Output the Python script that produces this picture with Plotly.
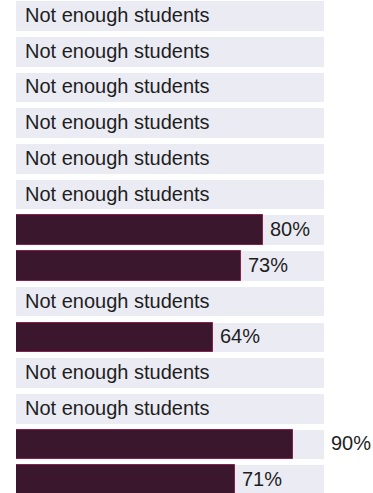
import plotly.graph_objects as go

# one entry per row, top to bottom; None = not enough students
rows = list(range(14))
values = [None, None, None, None, None, None, 80, 73, None, 64, None, None, 90, 71]
missing_label = "Not enough students"

colors = {
    'band': '#ebebf4',
    'bar': '#3a172d',
    'bar_edge': '#8c1f4c',
    'text': '#1e1e1e',
}

fig = go.Figure()

# light background band behind every row (full 100%)
fig.add_trace(go.Bar(
    x=[100] * len(rows),
    y=rows,
    orientation='h',
    width=0.83,
    marker=dict(color=colors['band'], line=dict(width=0)),
    hoverinfo='skip',
    showlegend=False
))

# actual percentage bars
bar_y = [r for r, v in zip(rows, values) if v is not None]
bar_x = [v for v in values if v is not None]
fig.add_trace(go.Bar(
    x=bar_x,
    y=bar_y,
    orientation='h',
    width=0.83,
    marker=dict(color=colors['bar'], line=dict(color=colors['bar_edge'], width=1)),
    showlegend=False
))

fig.update_layout(barmode='overlay')

# labels
for r, v in zip(rows, values):
    if v is None:
        fig.add_annotation(x=0, y=r, text=missing_label, showarrow=False,
                           xanchor='left', xshift=7, yshift=1,
                           font=dict(size=20, color=colors['text']))
    else:
        # long bars push the label past the band
        lx = v if v < 85 else 100
        fig.add_annotation(x=lx, y=r, text=f"{v}%", showarrow=False,
                           xanchor='left', xshift=5, yshift=1,
                           font=dict(size=20, color=colors['text']))

fig.update_layout(
    width=373,
    height=493,
    margin=dict(l=16, r=0, t=0, b=0),
    paper_bgcolor='white',
    plot_bgcolor='white',
    font=dict(family='Liberation Sans, Arial, sans-serif'),
    xaxis=dict(range=[0, 115.8], visible=False, fixedrange=True),
    yaxis=dict(range=[13.36, -0.45], visible=False, fixedrange=True),
    bargap=0
)

fig.write_html("out.html", config={'displayModeBar': False},
               post_script="document.body.style.margin='0';")
